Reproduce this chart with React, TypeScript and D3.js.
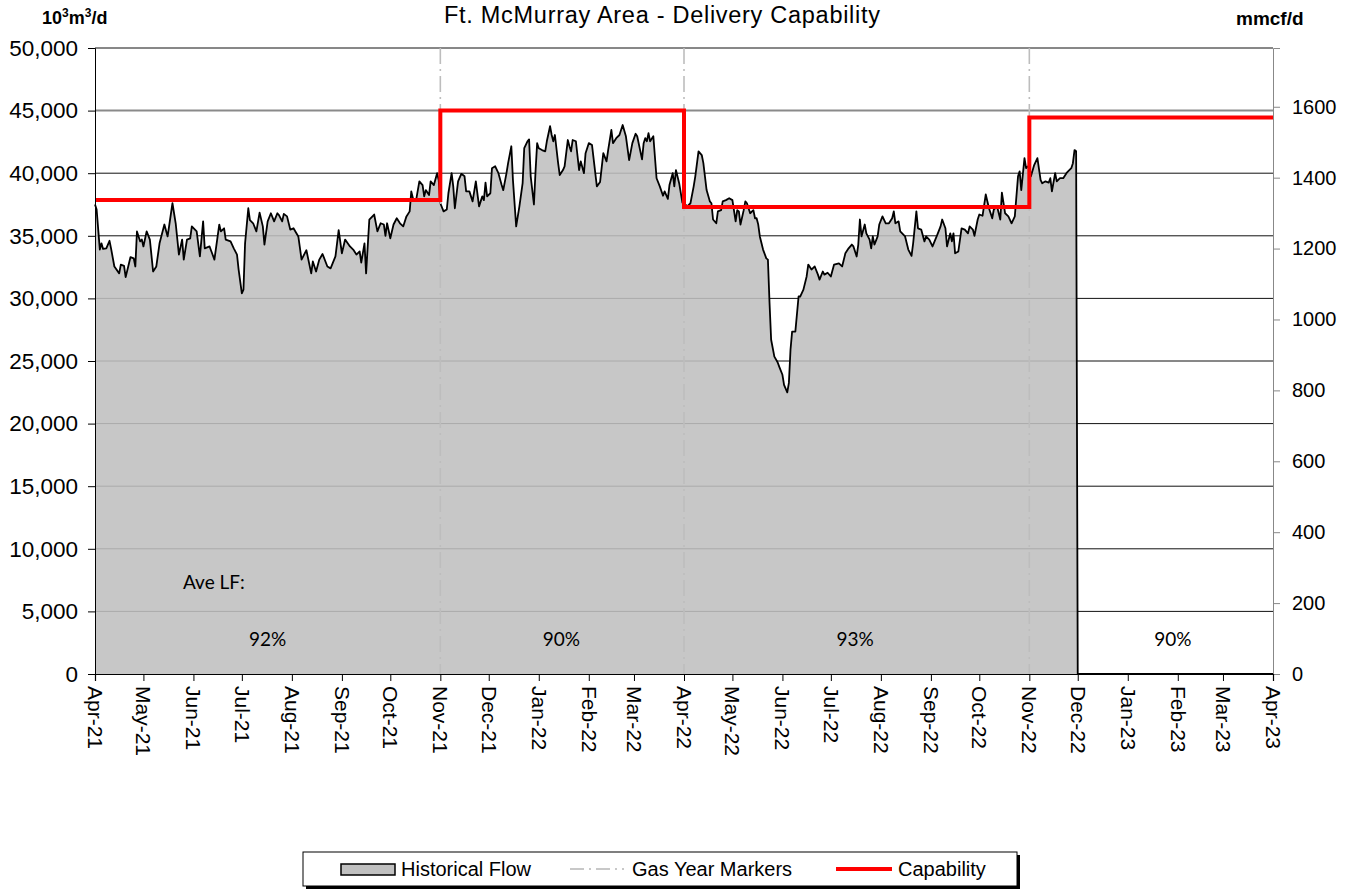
import React, { useRef, useEffect } from "react";
import * as d3 from "d3";

// daily flow: days since 2021-04-01 and 10^3 m3/d
const flowStart = "2021-04-01";
const flowDays = [
  0, 1, 3, 4, 5, 7, 9, 10, 12, 15, 16, 18, 19, 22, 24, 25, 26, 28, 29, 30, 32, 34, 36, 38, 40, 43, 45, 48, 50, 52,
  54, 55, 57, 59, 60, 63, 65, 67, 68, 71, 74, 77, 78, 80, 81, 84, 86, 88, 89, 91, 92, 93, 95, 96, 98, 100, 102, 104,
  105, 107, 109, 111, 113, 114, 116, 117, 119, 121, 123, 126, 128, 131, 134, 135, 137, 139, 141, 144, 146, 149, 151,
  153, 155, 158, 160, 162, 164, 165, 167, 168, 170, 173, 175, 177, 179, 180, 181, 183, 185, 187, 189, 191, 193, 195,
  196, 197, 199, 201, 203, 204, 205, 207, 208, 210, 212, 213, 214, 216, 218, 219, 221, 222, 223, 225, 227, 229, 230,
  232, 234, 236, 238, 240, 241, 242, 243, 245, 246, 248, 250, 252, 253, 255, 256, 258, 259, 261, 263, 265, 266, 268,
  269, 270, 272, 273, 274, 275, 277, 279, 280, 282, 283, 284, 285, 287, 288, 290, 291, 293, 294, 295, 296, 298, 300,
  301, 303, 304, 306, 308, 311, 313, 315, 317, 318, 320, 321, 323, 325, 327, 329, 331, 333, 335, 336, 339, 340, 341,
  342, 343, 344, 346, 348, 350, 352, 353, 355, 356, 358, 359, 360, 362, 364, 365, 367, 369, 371, 372, 374, 376, 377,
  379, 381, 382, 383, 385, 386, 388, 389, 391, 393, 395, 397, 398, 399, 400, 402, 403, 404, 406, 408, 409, 410, 411,
  412, 414, 416, 417, 418, 419, 421, 423, 424, 426, 427, 429, 430, 431, 432, 434, 436, 437, 439, 441, 442, 444, 446,
  448, 449, 451, 452, 454, 456, 458, 461, 463, 465, 467, 469, 470, 472, 473, 474, 475, 477, 478, 480, 481, 482, 483,
  485, 486, 488, 490, 492, 494, 495, 496, 498, 499, 502, 504, 506, 507, 509, 510, 512, 514, 515, 517, 519, 522, 524,
  525, 527, 528, 530, 531, 532, 533, 535, 537, 539, 541, 542, 544, 545, 547, 548, 550, 552, 554, 556, 557, 559, 561,
  562, 564, 566, 568, 570, 572, 573, 574, 576, 577, 579, 580, 582, 584, 586, 587, 589, 591, 592, 593, 595, 596, 598,
  600, 602, 603, 605, 606, 607, 608, 609, 730,
];
const flowValues = [
  37500, 37100, 33900, 34400, 33950, 34000, 34600, 33950, 32550, 32000, 32700, 32600, 31700, 33300, 33200, 32550,
  35350, 34550, 34700, 34150, 35350, 34700, 32150, 32550, 34400, 35900, 34950, 37600, 36000, 33500, 34700, 33100,
  34700, 34800, 35750, 35350, 33350, 36150, 34000, 34150, 33100, 35900, 35350, 35600, 34700, 34550, 34000, 33500,
  32300, 30400, 30700, 34400, 37200, 36250, 36000, 35350, 36850, 35750, 34300, 36150, 36800, 36150, 36800, 36650,
  36150, 36750, 36550, 35500, 35600, 34950, 33100, 33850, 32000, 32950, 32150, 33100, 33550, 32550, 32400, 33350,
  35450, 33600, 34700, 34150, 33900, 33500, 33750, 32850, 34400, 32000, 36300, 36700, 35350, 36000, 35900, 35000,
  36000, 34800, 35900, 36400, 36000, 35750, 36550, 36950, 38550, 38000, 37850, 39350, 39050, 38150, 38650, 38250,
  39350, 39050, 40000, 39450, 37600, 36950, 37100, 38400, 40000, 38950, 37200, 39350, 39950, 39750, 38550, 38550,
  37750, 39350, 37350, 38150, 37850, 39250, 38150, 38400, 40400, 40550, 40000, 39050, 38650, 40000, 40800, 42150,
  39450, 35750, 37350, 39200, 42000, 42550, 42700, 39750, 37500, 40150, 42400, 42000, 41850, 41750, 42550, 43750,
  43050, 42550, 43050, 40800, 39850, 40250, 40550, 42650, 42150, 41750, 42650, 42550, 40250, 40950, 40000, 41600,
  42400, 42250, 38950, 39300, 41600, 40950, 41850, 43450, 42400, 42800, 43050, 43850, 42950, 41050, 42400, 43150,
  42950, 41100, 42400, 42800, 42550, 43200, 42550, 42950, 39600, 38950, 38200, 38550, 37950, 39050, 40000, 38950,
  40250, 39200, 37650, 37600, 37350, 37600, 38950, 39750, 41750, 41450, 40800, 38650, 37750, 37600, 36300, 36000,
  36950, 37050, 37750, 37850, 38000, 37850, 36150, 37050, 36950, 35900, 37050, 37750, 37600, 36800, 37050, 36400,
  36400, 35900, 34950, 33900, 33200, 33100, 29650, 26700, 25350, 24900, 24550, 23900, 23100, 22500, 23250, 25900,
  27350, 27350, 30150, 30150, 30700, 31750, 32700, 32300, 32550, 31900, 31500, 32150, 31900, 32050, 31750, 32700,
  32800, 32550, 33600, 34000, 34300, 34150, 33350, 34300, 36300, 34950, 35900, 35200, 34700, 34000, 34950, 34300,
  34950, 35900, 36550, 36000, 36000, 36400, 36950, 36000, 36150, 35350, 34950, 33900, 33400, 34400, 36950, 35600,
  35500, 34550, 34950, 34700, 34150, 35100, 35750, 36300, 35600, 34150, 35200, 34550, 35200, 33600, 33750, 35600,
  35500, 35200, 35750, 35500, 35000, 36300, 36700, 36600, 38300, 37200, 36400, 37100, 37350, 36300, 38450, 36800,
  36550, 36000, 36550, 39750, 40150, 38650, 41200, 40400, 40650, 39750, 40650, 41200, 39450, 39200, 39350, 39250,
  39600, 38550, 40000, 39350, 39600, 39600, 40000, 40150, 40400, 40800, 41850, 41750, 0, 0,
];

// delivery capability steps (last date closes the final step)
const capDates = ["2021-04-01", "2021-11-01", "2022-04-01", "2022-11-01", "2023-04-01"];
const capValues = [37850, 45000, 37300, 44450];

const markerDates = ["2021-04-01", "2021-11-01", "2022-04-01", "2022-11-01"];

const lfDates = ["2021-07-17", "2022-01-15", "2022-07-16", "2023-01-29"];
const lfLabels = ["92%", "90%", "93%", "90%"];

const leftTicks = [0, 5000, 10000, 15000, 20000, 25000, 30000, 35000, 40000, 45000, 50000];
const rightTicks = [0, 200, 400, 600, 800, 1000, 1200, 1400, 1600];
const M3_TO_MMCF = 0.0353147;

const FONT = "'Liberation Sans', Arial, sans-serif";

const App = () => {
  const svgRef = useRef(null);

  useEffect(() => {
    const width = 1351;
    const height = 891;
    const margin = { top: 48, right: 78, bottom: 217, left: 95 };
    const parse = d3.timeParse("%Y-%m-%d");
    const start = parse(flowStart);

    const svg = d3.select(svgRef.current).attr("width", width).attr("height", height);
    svg.selectAll("*").remove();

    const x = d3
      .scaleTime()
      .domain([parse("2021-04-01"), parse("2023-04-01")])
      .range([margin.left, width - margin.right]);
    const y = d3.scaleLinear().domain([0, 50000]).range([height - margin.bottom, margin.top]);
    const yR = d3
      .scaleLinear()
      .domain([0, 50000 * M3_TO_MMCF])
      .range([height - margin.bottom, margin.top]);

    const x0 = margin.left;
    const x1 = width - margin.right;
    const yBottom = height - margin.bottom;

    svg.append("rect").attr("width", width).attr("height", height).attr("fill", "#fff");

    // gridlines
    svg
      .append("g")
      .selectAll("line")
      .data(leftTicks.filter((d) => d > 0))
      .join("line")
      .attr("x1", x0)
      .attr("x2", x1)
      .attr("y1", (d) => y(d))
      .attr("y2", (d) => y(d))
      .attr("stroke", (d) => (d === 45000 ? "#8a8a8a" : "#111"))
      .attr("stroke-width", (d) => (d === 45000 ? 2 : 1));

    const flow = flowDays.map((d, i) => ({ date: d3.timeDay.offset(start, d), value: flowValues[i] }));

    const area = d3
      .area()
      .x((d) => x(d.date))
      .y0(y(0))
      .y1((d) => y(d.value));
    svg.append("path").datum(flow).attr("d", area).attr("fill", "#bfbfbf").attr("fill-opacity", 0.88);

    const line = d3
      .line()
      .x((d) => x(d.date))
      .y((d) => y(d.value));
    svg
      .append("path")
      .datum(flow)
      .attr("d", line)
      .attr("fill", "none")
      .attr("stroke", "#000")
      .attr("stroke-width", 1.8)
      .attr("stroke-linejoin", "round");

    // gas year markers
    svg
      .append("g")
      .selectAll("line")
      .data(markerDates.slice(1))
      .join("line")
      .attr("x1", (d) => x(parse(d)))
      .attr("x2", (d) => x(parse(d)))
      .attr("y1", margin.top)
      .attr("y2", yBottom)
      .attr("stroke", "#bdbdbd")
      .attr("stroke-width", 1.6)
      .attr("stroke-dasharray", "16,5,2,5");

    // capability
    const cap = capDates.map((d, i) => ({ date: parse(d), value: capValues[Math.min(i, capValues.length - 1)] }));
    svg
      .append("path")
      .datum(cap)
      .attr("d", line.curve(d3.curveStepAfter))
      .attr("fill", "none")
      .attr("stroke", "#ff0000")
      .attr("stroke-width", 4);

    // left axis
    const left = svg.append("g").attr("transform", `translate(${x0},0)`).call(
      d3
        .axisLeft(y)
        .tickValues(leftTicks)
        .tickSize(7)
        .tickPadding(10)
        .tickFormat(d3.format(","))
    );
    left.selectAll("text").attr("font-size", 22.5).attr("font-family", FONT).attr("fill", "#000");
    left.selectAll("line,path").attr("stroke", "#000");

    // right axis
    const right = svg.append("g").attr("transform", `translate(${x1},0)`).call(
      d3.axisRight(yR).tickValues(rightTicks).tickSize(7).tickPadding(12).tickFormat(d3.format("d"))
    );
    right.selectAll("text").attr("font-size", 20).attr("font-family", FONT).attr("fill", "#000");
    right.selectAll("line,path").attr("stroke", "#888");

    // bottom axis
    const months = d3.timeMonth.range(parse("2021-04-01"), d3.timeDay.offset(parse("2023-04-01"), 1));
    const bottom = svg.append("g").attr("transform", `translate(0,${yBottom})`).call(
      d3.axisBottom(x).tickValues(months).tickSize(7).tickFormat(d3.timeFormat("%b-%y"))
    );
    bottom.select("path").attr("stroke", "#000").attr("stroke-width", 1.2);
    bottom.selectAll("line").attr("stroke", "#000");
    bottom
      .selectAll("text")
      .attr("font-size", 21)
      .attr("font-family", FONT)
      .attr("fill", "#000")
      .attr("text-anchor", "start")
      .attr("transform", "rotate(90)")
      .attr("x", 12)
      .attr("y", 0)
      .attr("dy", "0.36em");

    // title and units
    svg
      .append("text")
      .attr("x", 662)
      .attr("y", 23)
      .attr("text-anchor", "middle")
      .attr("font-family", FONT)
      .attr("font-size", 23.5)
      .attr("textLength", 436)
      .text("Ft. McMurray Area - Delivery Capability");

    const unitL = svg
      .append("text")
      .attr("x", 42)
      .attr("y", 24)
      .attr("font-family", FONT)
      .attr("font-size", 18)
      .attr("font-weight", "bold");
    unitL.append("tspan").text("10");
    unitL.append("tspan").attr("font-size", 12).attr("dy", -7).text("3");
    unitL.append("tspan").attr("dy", 7).text("m");
    unitL.append("tspan").attr("font-size", 12).attr("dy", -7).text("3");
    unitL.append("tspan").attr("dy", 7).text("/d");

    svg
      .append("text")
      .attr("x", 1236)
      .attr("y", 25)
      .attr("font-family", FONT)
      .attr("font-size", 19)
      .attr("font-weight", "bold")
      .text("mmcf/d");

    // load factor notes
    svg
      .append("text")
      .attr("x", 183)
      .attr("y", 589)
      .attr("font-family", "Lato, 'Open Sans', sans-serif")
      .attr("font-size", 19)
      .text("Ave LF:");
    svg
      .append("g")
      .selectAll("text")
      .data(lfLabels)
      .join("text")
      .attr("x", (d, i) => x(parse(lfDates[i])))
      .attr("y", y(2200))
      .attr("text-anchor", "middle")
      .attr("font-family", "Lato, 'Open Sans', sans-serif")
      .attr("font-size", 19)
      .text((d) => d);

    // legend
    const lg = svg.append("g");
    lg.append("rect").attr("x", 306).attr("y", 855).attr("width", 714).attr("height", 34).attr("fill", "#000");
    lg.append("rect")
      .attr("x", 303)
      .attr("y", 852)
      .attr("width", 714)
      .attr("height", 34)
      .attr("fill", "#fff")
      .attr("stroke", "#000");
    lg.append("rect")
      .attr("x", 341)
      .attr("y", 864)
      .attr("width", 54)
      .attr("height", 11)
      .attr("fill", "#c0c0c0")
      .attr("stroke", "#000")
      .attr("stroke-width", 1.5);
    lg.append("line")
      .attr("x1", 570)
      .attr("x2", 624)
      .attr("y1", 869)
      .attr("y2", 869)
      .attr("stroke", "#c8c8c8")
      .attr("stroke-width", 2)
      .attr("stroke-dasharray", "14,5,2,5");
    lg.append("line")
      .attr("x1", 836)
      .attr("x2", 892)
      .attr("y1", 869)
      .attr("y2", 869)
      .attr("stroke", "#ff0000")
      .attr("stroke-width", 4);
    const legendText = [
      ["Historical Flow", 401],
      ["Gas Year Markers", 632],
      ["Capability", 898],
    ];
    lg.selectAll("text.lt")
      .data(legendText)
      .join("text")
      .attr("x", (d) => d[1])
      .attr("y", 876)
      .attr("font-family", FONT)
      .attr("font-size", 20)
      .text((d) => d[0]);
  }, []);

  return (
    <div style={{ position: "absolute", left: 0, top: 0 }}>
      <svg ref={svgRef}></svg>
    </div>
  );
};

export default App;
